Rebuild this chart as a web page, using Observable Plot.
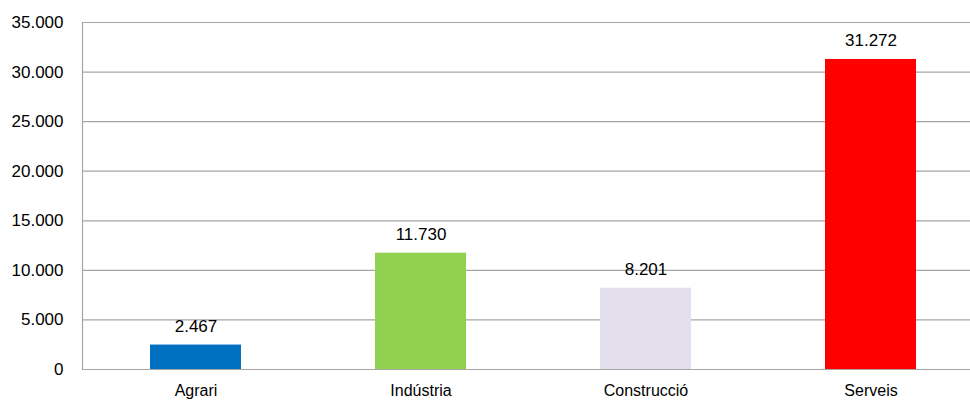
<!DOCTYPE html>
<html>
<head>
<meta charset="utf-8">
<script src="https://cdn.jsdelivr.net/npm/d3@7"></script>
<script src="https://cdn.jsdelivr.net/npm/@observablehq/plot@0.6"></script>
<style>
  html, body { margin: 0; padding: 0; background: #fff; }
  #wrap { width: 970px; height: 400px; overflow: hidden; }
  #wrap svg { max-width: none !important; }
</style>
</head>
<body>
<div id="wrap"></div>
<script>
const categories = ["Agrari", "Indústria", "Construcció", "Serveis"];
const values = [2467, 11730, 8201, 31272];
const colors = ["#0070C0", "#92D050", "#E4DFEC", "#FF0000"];
const yTicks = [0, 5000, 10000, 15000, 20000, 25000, 30000, 35000];

const data = categories.map((c, i) => ({category: c, value: values[i], color: colors[i]}));
const fmt = d3.formatLocale({decimal: ",", thousands: ".", grouping: [3], currency: ["", ""]}).format(",d");

const font = "'Liberation Sans', Arial, sans-serif";

const chart = Plot.plot({
  width: 983,
  height: 400,
  marginLeft: 82,
  marginRight: 0,
  marginTop: 22,
  marginBottom: 31,
  style: {fontFamily: font, fontSize: "16px", color: "#000", background: "#fff", maxWidth: "none"},
  x: {domain: categories, paddingInner: 0.596, paddingOuter: 0.298, label: null},
  y: {domain: [0, 35000], label: null},
  marks: [
    Plot.ruleY(yTicks, {stroke: "#a6a6a6", strokeWidth: 1.2}),
    Plot.barY(data, {x: "category", y: "value", fill: "color"}),
    Plot.ruleY([0], {stroke: "#a6a6a6", strokeWidth: 1.2}),
    Plot.frame({anchor: "left", stroke: "#a6a6a6", strokeWidth: 1.2}),
    Plot.text(data, {x: "category", y: "value", text: d => fmt(d.value), lineAnchor: "bottom", dy: -13, fontSize: 17, fill: "#000"}),
    Plot.axisY({ticks: yTicks, tickFormat: fmt, tickSize: 0, tickPadding: 19, fontSize: 17, label: null}),
    Plot.axisX({tickSize: 0, tickPadding: 15, lineAnchor: "top", fontSize: 16, label: null})
  ]
});
chart.style.maxWidth = "none";
document.getElementById("wrap").appendChild(chart);
</script>
</body>
</html>
